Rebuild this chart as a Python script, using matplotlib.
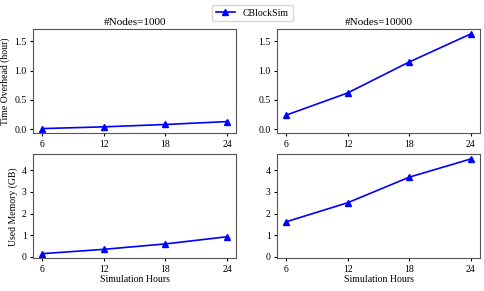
import matplotlib
matplotlib.use("Agg")
import matplotlib.pyplot as plt

plt.rcParams["font.family"] = ["Liberation Serif", "DejaVu Serif"]

# data
hours = [6, 12, 18, 24]
time_1000 = [0.01, 0.04, 0.08, 0.13]
time_10000 = [0.24, 0.62, 1.15, 1.63]
mem_1000 = [0.15, 0.35, 0.60, 0.93]
mem_10000 = [1.62, 2.50, 3.68, 4.52]
titles = ["#Nodes=1000", "#Nodes=10000"]

fig, axes = plt.subplots(2, 2, figsize=(4.85, 2.91), dpi=100, sharey="row")
fig.subplots_adjust(left=0.068, right=0.99, top=0.9, bottom=0.112,
                    wspace=0.2, hspace=0.2)

series = [[time_1000, time_10000], [mem_1000, mem_10000]]
for r in range(2):
    for c in range(2):
        ax = axes[r][c]
        line, = ax.plot(hours, series[r][c], color="blue", marker="^",
                        markersize=4.5, linewidth=1.2, label="CBlockSim")
        ax.set_xticks(hours)
        ax.tick_params(labelsize=7, labelleft=True, length=2.5, pad=2)
        for s in ax.spines.values():
            s.set_color("#555555")
        if r == 0:
            ax.set_title(titles[c], fontsize=8, pad=3)
        else:
            ax.set_xlabel("Simulation Hours", fontsize=7, labelpad=1)

axes[0][0].set_yticks([0.0, 0.5, 1.0, 1.5])
axes[1][0].set_yticks([0, 1, 2, 3, 4])
axes[0][0].set_ylabel("Time Overhead (hour)", fontsize=7, labelpad=3)
axes[1][0].set_ylabel("Used Memory (GB)", fontsize=7, labelpad=3)

fig.legend(handles=[line], loc="center", bbox_to_anchor=(0.52, 0.955),
           fontsize=7, frameon=True, fancybox=True, handlelength=2)

plt.savefig("out.png", dpi=100)
plt.close()
